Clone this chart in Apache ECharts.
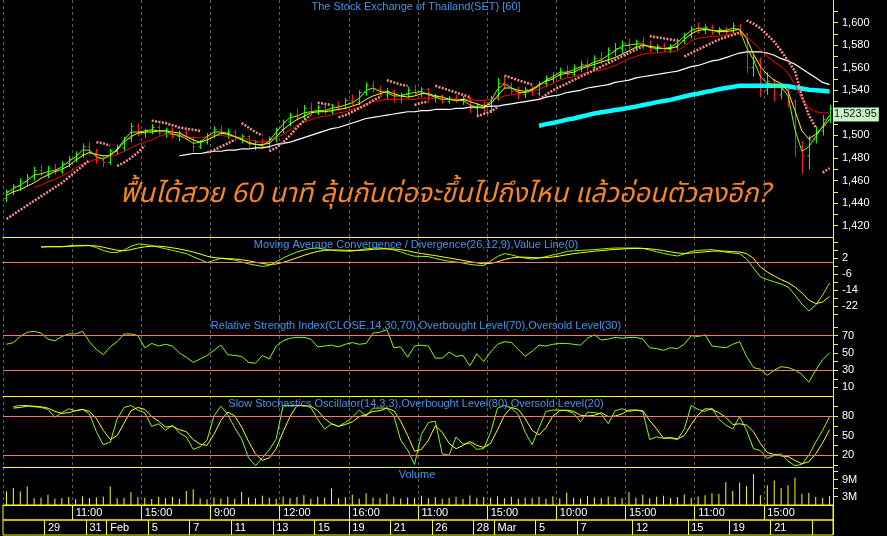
<!DOCTYPE html>
<html>
<head>
<meta charset="utf-8">
<title>SET [60]</title>
<script src="https://cdn.jsdelivr.net/npm/echarts@6.0.0/dist/echarts.min.js"></script>
<style>
  html, body { margin: 0; padding: 0; background: #000; }
  #chart { width: 887px; height: 536px; }
</style>
</head>
<body>
<div id="chart"></div>
<script>
// hourly bars: [open, high, low, close]
const priceBars = [
  [1444,1452,1441,1450],[1450,1457,1447,1455],[1455,1462,1451,1459],[1459,1466,1455,1463],[1463,1472,1460,1469],
  [1469,1474,1464,1466],[1466,1473,1462,1471],[1471,1475,1465,1468],[1468,1477,1466,1475],[1475,1482,1472,1479],
  [1479,1486,1476,1483],[1483,1493,1480,1490],[1490,1494,1482,1484],[1484,1488,1475,1478],[1478,1482,1472,1476],
  [1476,1488,1474,1486],[1486,1492,1483,1489],[1489,1499,1486,1497],[1497,1511,1494,1508],[1508,1510,1499,1502],
  [1502,1506,1498,1504],[1504,1510,1501,1507],[1507,1509,1500,1502],[1502,1507,1498,1505],[1505,1507,1497,1499],
  [1499,1504,1495,1502],[1502,1505,1496,1498],[1498,1499,1485,1490],[1490,1496,1488,1494],[1494,1502,1492,1500],
  [1500,1508,1498,1505],[1505,1509,1500,1502],[1502,1506,1497,1503],[1503,1505,1495,1497],[1497,1501,1493,1499],
  [1499,1500,1489,1492],[1492,1496,1487,1494],[1494,1497,1488,1490],[1490,1499,1488,1497],[1497,1507,1494,1505],
  [1505,1514,1502,1512],[1512,1520,1508,1518],[1518,1524,1513,1516],[1516,1527,1514,1524],[1524,1529,1518,1520],
  [1520,1527,1518,1525],[1525,1527,1519,1521],[1521,1528,1519,1526],[1526,1530,1522,1524],[1524,1533,1523,1531],
  [1531,1536,1527,1529],[1529,1540,1527,1538],[1538,1547,1535,1544],[1544,1548,1538,1541],[1541,1544,1534,1536],
  [1536,1542,1532,1539],[1539,1540,1529,1532],[1532,1538,1529,1536],[1536,1543,1533,1540],[1540,1545,1535,1537],
  [1537,1543,1534,1541],[1541,1542,1531,1533],[1533,1537,1529,1535],[1535,1536,1528,1530],[1530,1535,1528,1533],
  [1533,1536,1529,1531],[1531,1535,1527,1533],[1533,1534,1520,1524],[1524,1529,1518,1527],[1527,1530,1519,1522],
  [1522,1535,1520,1533],[1533,1551,1531,1546],[1546,1552,1541,1544],[1544,1547,1536,1539],[1539,1543,1532,1536],
  [1536,1543,1533,1541],[1541,1544,1535,1537],[1537,1548,1535,1546],[1546,1553,1543,1550],[1550,1556,1547,1553],
  [1553,1560,1550,1557],[1557,1562,1552,1554],[1554,1563,1552,1560],[1560,1566,1556,1563],[1563,1568,1557,1560],
  [1560,1571,1558,1568],[1568,1574,1563,1566],[1566,1578,1564,1575],[1575,1582,1570,1577],[1577,1584,1573,1581],
  [1581,1586,1576,1578],[1578,1585,1575,1583],[1583,1587,1576,1579],[1579,1584,1574,1576],[1576,1581,1573,1579],
  [1579,1582,1574,1576],[1576,1581,1573,1578],[1578,1586,1576,1584],[1584,1591,1581,1589],[1589,1597,1586,1595],
  [1595,1600,1590,1593],[1593,1599,1590,1596],[1596,1598,1589,1591],[1591,1596,1589,1594],[1594,1596,1589,1592],
  [1592,1600,1590,1597],[1597,1599,1588,1590],[1590,1591,1555,1560],[1560,1571,1552,1566],[1566,1569,1534,1540],
  [1540,1556,1536,1548],[1548,1550,1530,1536],[1536,1546,1532,1541],[1541,1543,1525,1530],[1530,1532,1481,1490],
  [1490,1495,1466,1482],[1482,1500,1470,1496],[1496,1508,1493,1504],[1504,1518,1500,1514],[1514,1527,1511,1523.95]
];

// moving averages on the price panel
const maFast = [
  1449,1453,1456,1460,1465,1466,1468,1469,1472,1477,1481,1487,1487,1481,1479,1483,1488,1496,1503,1503,
  1504,1505,1504,1504,1501,1500,1497,1493,1494,1499,1503,1503,1502,1499,1497,1493,1492,1491,1495,1503,
  1510,1516,1517,1520,1521,1522,1522,1524,1525,1527,1529,1533,1540,1542,1539,1538,1535,1535,1537,1538,
  1539,1536,1534,1532,1532,1531,1531,1527,1525,1524,1530,1541,1546,1542,1538,1538,1540,1544,1549,1552,
  1556,1556,1558,1561,1562,1565,1567,1571,1575,1579,1580,1581,1581,1578,1577,1577,1578,1582,1588,1593,
  1595,1595,1593,1593,1593,1595,1594,1578,1567,1552,1546,1545,1543,1535,1505,1486,1490,1499,1508,1518
];
const maMid = [
  1447,1450,1452,1455,1458,1462,1465,1468,1470,1473,1478,1482,1485,1483,1482,1482,1487,1494,1499,1502,
  1503,1503,1504,1504,1503,1502,1499,1496,1494,1496,1499,1502,1501,1499,1496,1494,1492,1492,1493,1499,
  1505,1510,1514,1517,1520,1521,1521,1522,1523,1524,1526,1528,1532,1535,1537,1539,1537,1535,1534,1535,
  1537,1537,1535,1534,1532,1531,1532,1530,1528,1526,1528,1535,1542,1542,1540,1539,1541,1545,1548,1550,
  1554,1555,1556,1559,1561,1563,1565,1567,1569,1572,1575,1578,1580,1579,1578,1577,1577,1579,1585,1590,
  1593,1594,1593,1592,1592,1593,1594,1586,1572,1561,1554,1549,1546,1539,1522,1504,1497,1501,1507,1514
];
const maSlow = [
  null,null,null,null,1454,1456,1459,1461,1464,1467,1471,1475,1477,1479,1480,1481,1483,1486,1489,1492,
  1494,1496,1499,1501,1501,1500,1499,1498,1498,1499,1500,1500,1499,1499,1498,1496,1495,1494,1495,1498,
  1501,1505,1509,1512,1514,1516,1517,1518,1520,1521,1523,1525,1528,1530,1531,1532,1532,1532,1532,1532,
  1533,1533,1533,1532,1532,1532,1532,1532,1531,1531,1532,1533,1535,1536,1537,1538,1539,1541,1544,1546,
  1549,1551,1552,1554,1556,1557,1558,1560,1562,1565,1568,1570,1572,1573,1573,1574,1574,1575,1579,1584,
  1586,1587,1588,1588,1589,1590,1592,1588,1582,1576,1570,1565,1561,1555,1545,1532,1524,1521,1520,1520
];
const maLong = [
  null,null,null,null,null,null,null,null,null,null,null,null,null,null,null,null,null,null,null,null,
  null,null,null,null,null,1482,1483,1484,1484,1485,1486,1486,1487,1487,1488,1488,1489,1489,1490,1492,
  1493,1494,1496,1498,1500,1502,1504,1506,1507,1509,1511,1513,1515,1516,1517,1518,1519,1520,1521,1521,
  1522,1522,1523,1523,1523,1524,1524,1525,1525,1525,1526,1526,1527,1528,1529,1530,1531,1532,1534,1535,
  1536,1538,1539,1540,1542,1543,1544,1545,1547,1548,1549,1551,1552,1553,1554,1555,1556,1557,1559,1561,
  1562,1564,1566,1567,1569,1571,1573,1574,1574,1574,1573,1571,1568,1566,1563,1559,1555,1551,1547,1545
];
const maXLong = [
  null,null,null,null,null,null,null,null,null,null,null,null,null,null,null,null,null,null,null,null,
  null,null,null,null,null,null,null,null,null,null,null,null,null,null,null,null,null,null,null,null,
  null,null,null,null,null,null,null,null,null,null,null,null,null,null,null,null,null,null,null,null,
  null,null,null,null,null,null,null,null,null,null,null,null,null,null,null,null,null,1508.5,1510,1511,
  1512.5,1514,1515,1516.5,1518,1519.5,1520.5,1521.5,1522.5,1523.5,1524.5,1525.5,1527,1528,1529.5,1530.5,1531.5,1533,1534.5,1536,
  1537,1538.5,1539.5,1541,1542,1543,1544,1544,1544,1544,1544,1544,1544,1543.5,1542.5,1541.5,1540.5,1540,1539.5,1539
];

// parabolic SAR runs: [first bar, values], alternating below / above price
const sarRuns = [
  [0, [1426,1430,1434,1438,1442,1446,1450,1454,1458,1463,1468,1473,1478]],
  [13, [1494,1493,1491]],
  [16, [1473,1476,1480,1485,1491]],
  [21, [1513,1512,1511,1509,1507,1506,1505,1504]],
  [29, [1485,1487,1490,1493,1496]],
  [34, [1511,1507,1503,1500]],
  [38, [1486,1489,1494,1500,1507,1513,1518]],
  [45, [1529,1528,1527]],
  [48, [1516,1518,1521,1524,1527,1531,1534]],
  [55, [1549,1547,1545,1544]],
  [59, [1527,1529,1530]],
  [62, [1544,1542,1540,1538,1536,1534]],
  [68, [1517,1519,1521,1525]],
  [72, [1553,1551,1549,1547,1545]],
  [77, [1532,1536,1540,1543,1546,1549,1552,1555,1558,1561,1564,1567,1570,1573,1576,1579]],
  [93, [1588,1587,1586,1585,1584]],
  [98, [1570,1573,1576,1579,1582,1585,1587,1589,1591]],
  [107, [1602,1599,1595,1589,1583,1575,1566,1557,1535,1518,1507]],
  [118, [1467,1471]]
];

const macdLine = [
  null,null,null,null,null,7.5,7.7,7.6,7.6,8.1,8.3,8.3,8.3,7.2,5.8,4.8,4.8,6.0,7.9,9.0,
  8.8,8.2,7.4,6.6,5.8,5.0,4.2,2.6,1.2,-0.3,0.8,1.8,1.4,1.0,0.0,-0.9,-1.6,-2.2,-1.8,0.2,
  2.0,3.6,5.0,6.0,6.8,7.0,6.4,5.9,5.6,5.4,5.4,6.0,6.6,6.9,7.0,6.6,6.0,5.1,3.8,2.9,
  2.8,2.7,1.8,1.0,0.4,0.0,-0.5,-1.2,-1.6,-1.8,0.5,2.8,4.2,3.6,2.6,1.9,1.5,2.0,2.7,3.5,
  4.3,5.3,5.6,5.8,6.0,6.2,6.5,6.8,7.0,7.0,7.0,7.0,6.8,6.0,5.1,4.3,3.6,3.0,4.0,5.3,
  5.8,6.0,6.2,5.6,4.9,4.5,4.2,1.5,-3.0,-7.4,-8.8,-9.9,-11.0,-12.5,-16.5,-21.0,-24.5,-21.5,-16.5,-10.5
];
const macdSignal = [
  null,null,null,null,null,7.5,7.6,7.7,7.7,7.8,8.0,8.1,8.2,8.0,7.4,6.6,5.9,5.6,6.2,7.0,
  7.6,7.9,7.9,7.6,7.1,6.5,5.8,5.0,4.0,2.9,2.2,1.9,1.7,1.5,1.1,0.6,-0.1,-0.7,-1.2,-1.0,
  -0.2,0.9,2.1,3.3,4.4,5.3,5.8,6.0,6.0,5.9,5.8,5.8,6.0,6.3,6.5,6.6,6.5,6.2,5.6,4.8,
  4.2,3.7,3.2,2.6,2.0,1.4,0.8,0.2,-0.4,-0.9,-0.7,0.1,1.2,2.0,2.4,2.4,2.2,2.1,2.2,2.5,
  3.0,3.6,4.2,4.6,5.0,5.4,5.7,6.0,6.3,6.5,6.7,6.8,6.8,6.6,6.2,5.7,5.1,4.5,4.3,4.5,
  4.8,5.1,5.4,5.5,5.4,5.2,5.0,4.2,1.8,-2.5,-5.0,-7.0,-8.8,-10.3,-12.5,-15.5,-19.0,-20.8,-20.0,-17.2
];

const rsiLine = [
  60,62,69,74,75,73,66,64,69,72,72,75,63,54,48,57,63,72,72,70,
  56,61,58,60,58,50,45,39,43,47,53,59,48,47,46,39,38,47,43,58,
  64,67,68,68,66,57,58,59,57,60,62,60,61,73,74,77,56,57,45,58,
  59,58,44,44,51,46,47,35,49,40,51,60,63,62,54,46,52,59,58,60,
  61,61,60,59,67,71,65,66,68,67,68,68,66,56,55,53,56,55,60,70,
  69,71,58,57,56,60,63,46,33,31,24,30,34,33,30,25,16,30,42,50
];

const stochK = [
  null,94,96,96,94,93,90,78,85,91,88,90,83,56,36,40,75,93,96,89,
  85,64,68,58,66,54,48,29,33,43,80,95,82,62,45,16,4,16,28,45,
  96,96,96,96,93,75,60,68,64,70,78,89,80,92,92,92,80,43,28,6,
  52,70,72,22,20,48,37,38,29,30,55,92,96,92,82,55,36,62,87,89,
  89,88,84,71,86,85,83,68,88,91,87,89,87,44,48,46,46,44,60,96,
  90,87,92,75,66,60,79,58,30,27,15,20,22,11,4,6,20,40,58,79
];
const stochD = [
  null,92,93,95,95,94,92,87,84,85,88,90,87,76,58,44,50,69,88,93,
  90,79,72,63,64,59,56,44,37,35,52,73,86,80,63,41,22,12,16,30,
  56,79,96,96,95,88,76,68,64,67,71,79,82,87,88,92,88,72,50,26,
  29,43,65,55,38,30,35,41,35,32,38,59,81,93,90,76,58,51,62,80,
  88,89,87,81,80,81,85,79,80,83,89,89,88,73,60,46,47,45,50,67,
  82,91,90,85,78,67,68,66,56,38,24,21,19,18,12,7,10,22,39,59
];

// volume in millions of shares
const volume = [
  4.8,6.0,4.8,6.6,2.4,2.6,3.6,2.2,2.4,2.8,2.0,3.1,2.5,2.7,3.0,6.6,2.4,2.6,4.5,2.8,
  2.6,2.1,2.8,2.5,2.9,2.2,5.0,5.6,2.4,2.0,2.7,2.3,2.9,2.2,4.6,2.7,2.4,3.3,2.6,2.2,
  3.0,2.5,2.8,3.5,2.2,2.9,2.6,5.9,2.4,2.8,3.6,2.3,4.2,2.7,2.5,3.9,2.9,2.3,2.7,2.6,
  3.3,2.4,2.8,2.2,2.6,2.9,2.1,3.4,2.5,2.8,2.6,3.0,2.4,2.9,2.2,2.7,2.5,2.8,2.3,3.1,
  2.4,4.4,2.6,2.3,3.2,2.7,2.5,3.0,2.8,2.4,4.5,2.6,3.6,2.4,2.9,3.3,2.5,2.8,3.7,2.6,
  3.0,3.5,4.2,4.0,8.1,5.0,8.0,6.7,11.0,3.5,7.0,8.7,6.0,7.0,9.7,4.0,4.3,2.8,2.5,3.2
];

// bottom time scale: bar index where a label band starts
const timeMarks = [[10,'11:00'],[20,'15:00'],[30,'9:00'],[40,'12:00'],[50,'16:00'],[60,'11:00'],
  [70,'15:00'],[80,'10:00'],[90,'15:00'],[100,'11:00'],[110,'15:00']];
const dateMarks = [[6,'29'],[12,'31'],[15,'Feb'],[21,'5'],[27,'7'],[33,'11'],[39,'13'],[45,'15'],
  [50,'19'],[56,'21'],[62,'26'],[68,'28'],[71,'Mar'],[77,'5'],[83,'7'],[91,'12'],[99,'15'],
  [105,'19'],[111,'21'],[117,'']];

// right-hand scales
const priceTicks = [1420,1430,1440,1450,1460,1470,1480,1490,1500,1510,1520,1530,1540,1550,1560,1570,1580,1590,1600,1610];
const priceLabels = [1420,1440,1460,1480,1500,1520,1540,1560,1580,1600];
const macdTicks = [-26,-22,-18,-14,-10,-6,-2,2,6,10];
const macdLabels = [-22,-14,-6,2];
const rsiTicks = [10,20,30,40,50,60,70,80];
const rsiLabels = [10,30,50,70];
const stochTicks = [5,20,35,50,65,80,95];
const stochLabels = [20,50,80];
const volTicks = [3,6,9,12];
const volLabels = [3,9];

const FONT = "'Liberation Sans', Arial, sans-serif";
const YELLOW = '#ffff00';
const LIME = '#80ff00';
const LEVEL = '#ff7373';
const BLUE = '#3f95ea';

const categories = priceBars.map((b, i) => String(i));
const lastClose = priceBars[priceBars.length - 1][3];
const timeText = new Map(timeMarks);
const dateText = new Map(dateMarks);

function withCommas (v) {
  return String(v).replace(/\B(?=(\d{3})+(?!\d))/g, ',');
}

function sarSide (side) {
  const out = categories.map(() => null);
  sarRuns.forEach((run, k) => {
    if (k % 2 !== side) return;
    run[1].forEach((v, j) => { out[run[0] + j] = v; });
  });
  return out;
}

const panels = [
  { top: 0, height: 237 },
  { top: 237, height: 81 },
  { top: 318, height: 78 },
  { top: 396, height: 71 },
  { top: 467, height: 38 },
  { top: 505, height: 15 },
  { top: 520, height: 15 }
];

function panelX (gridIndex) {
  return {
    type: 'category', gridIndex: gridIndex, data: categories, boundaryGap: true,
    axisLine: { show: true, lineStyle: { color: YELLOW, width: 1 } },
    axisTick: { show: false },
    axisLabel: { show: false },
    splitLine: { show: true, interval: (i) => i % 10 === 0, lineStyle: { color: '#5c5c5c', type: [3, 3], width: 1 } }
  };
}

function rowX (gridIndex, texts) {
  return {
    type: 'category', gridIndex: gridIndex, data: categories, boundaryGap: true,
    axisLine: { show: false },
    axisTick: { show: false },
    axisLabel: {
      show: true, inside: true, margin: 7, verticalAlign: 'middle', align: 'left',
      color: '#ffffff', fontSize: 11, fontFamily: FONT,
      interval: (i) => texts.has(i),
      formatter: (v, i) => texts.get(i) || ''
    },
    splitLine: { show: true, interval: (i) => texts.has(i), lineStyle: { color: YELLOW, width: 1 } }
  };
}

function rightY (gridIndex, min, max, ticks, labels, fmt) {
  return {
    type: 'value', gridIndex: gridIndex, position: 'right', min: min, max: max,
    axisLine: { show: true, lineStyle: { color: YELLOW, width: 1 } },
    axisTick: { show: true, length: 5, customValues: ticks, lineStyle: { color: YELLOW } },
    axisLabel: { show: true, customValues: labels, color: '#ffffff', fontSize: 11, fontFamily: FONT, margin: 9, formatter: fmt },
    splitLine: { show: false }
  };
}

function line (name, x, y, data, color, width, extra) {
  return Object.assign({
    name: name, type: 'line', xAxisIndex: x, yAxisIndex: y, data: data,
    symbol: 'none', showSymbol: false, connectNulls: false,
    lineStyle: { color: color, width: width }, itemStyle: { color: color }
  }, extra || {});
}

function levels (values) {
  return {
    silent: true, symbol: 'none', animation: false,
    label: { show: false },
    lineStyle: { color: LEVEL, type: 'solid', width: 1 },
    data: values.map(v => ({ yAxis: v }))
  };
}

function renderOhlc (params, api) {
  const i = api.value(0);
  const open = api.value(1);
  const close = api.value(4);
  const pO = api.coord([i, open]);
  const pH = api.coord([i, api.value(2)]);
  const pL = api.coord([i, api.value(3)]);
  const pC = api.coord([i, close]);
  const color = close >= open ? '#00ff00' : '#ff1a1a';
  const x = Math.round(pO[0]) + 0.5;
  const st = { stroke: color, lineWidth: 1 };
  return {
    type: 'group',
    children: [
      { type: 'line', shape: { x1: x, y1: pH[1], x2: x, y2: pL[1] }, style: st },
      { type: 'line', shape: { x1: x - 2, y1: pO[1], x2: x, y2: pO[1] }, style: st },
      { type: 'line', shape: { x1: x, y1: pC[1], x2: x + 2, y2: pC[1] }, style: st }
    ]
  };
}

const chart = echarts.init(document.getElementById('chart'), null, { renderer: 'canvas' });

chart.setOption({
  backgroundColor: '#000000',
  animation: false,
  grid: panels.map((p, k) => ({
    left: 3, width: 830, top: p.top, height: p.height,
    show: k >= 5, borderColor: YELLOW, borderWidth: 1, backgroundColor: 'transparent'
  })),
  xAxis: [panelX(0), panelX(1), panelX(2), panelX(3), panelX(4), rowX(5, timeText), rowX(6, dateText)],
  yAxis: [
    rightY(0, 1410, 1620, priceTicks, priceLabels, withCommas),
    rightY(1, -28, 12.5, macdTicks, macdLabels),
    rightY(2, 0, 90.5, rsiTicks, rsiLabels),
    rightY(3, 2, 110.5, stochTicks, stochLabels),
    rightY(4, 0, 13.5, volTicks, volLabels, v => v + 'M'),
    { type: 'value', gridIndex: 5, show: false },
    { type: 'value', gridIndex: 6, show: false }
  ],
  graphic: [
    { type: 'text', x: 416, y: 7, z: 50, style: { text: 'The Stock Exchange of Thailand(SET) [60]', fill: BLUE, font: '11px ' + FONT, align: 'center', verticalAlign: 'middle' } },
    { type: 'text', x: 416, y: 245, z: 50, style: { text: 'Moving Average Convergence / Divergence(26,12,9),Value Line(0)', fill: BLUE, font: '11px ' + FONT, align: 'center', verticalAlign: 'middle' } },
    { type: 'text', x: 416, y: 326, z: 50, style: { text: 'Relative Strength Index(CLOSE,14,30,70),Overbought Level(70),Oversold Level(30)', fill: BLUE, font: '11px ' + FONT, align: 'center', verticalAlign: 'middle' } },
    { type: 'text', x: 416, y: 404, z: 50, style: { text: 'Slow Stochastics Oscillator(14,3,3),Overbought Level(80),Oversold Level(20)', fill: BLUE, font: '11px ' + FONT, align: 'center', verticalAlign: 'middle' } },
    { type: 'text', x: 417, y: 475, z: 50, style: { text: 'Volume', fill: BLUE, font: '11px ' + FONT, align: 'center', verticalAlign: 'middle' } },
    { type: 'text', x: 445, y: 197, z: 60, style: { text: 'ฟื้นได้สวย 60 นาที ลุ้นกันต่อจะขึ้นไปถึงไหน แล้วอ่อนตัวลงอีก?', fill: '#f7861c', font: "italic 27px 'Noto Sans Thai', 'Noto Sans', 'DejaVu Sans', sans-serif", align: 'center', verticalAlign: 'middle' } }
  ],
  series: [
    {
      name: 'SET', type: 'custom', xAxisIndex: 0, yAxisIndex: 0,
      renderItem: renderOhlc,
      encode: { x: 0, y: [1, 2, 3, 4] },
      data: priceBars.map((b, i) => [i, b[0], b[1], b[2], b[3]])
    },
    line('MA long', 0, 0, maLong, '#ffffff', 1.2),
    line('MA extra long', 0, 0, maXLong, '#00ffff', 4.5),
    line('MA slow', 0, 0, maSlow, '#ff0000', 1),
    line('MA mid', 0, 0, maMid, YELLOW, 1, {
      markLine: {
        silent: true, symbol: 'none', animation: false,
        lineStyle: { color: 'rgba(0,0,0,0)', width: 1 },
        label: {
          show: true, position: 'end', distance: 0, formatter: withCommas(lastClose),
          backgroundColor: '#c8f3c8', color: '#101010', fontSize: 11, fontFamily: FONT,
          padding: [2, 2, 1, 1], offset: [0, 6], opacity: 1
        },
        data: [{ yAxis: lastClose }]
      }
    }),
    line('MA fast', 0, 0, maFast, LIME, 1),
    line('SAR below', 0, 0, sarSide(0), '#ff8a8a', 2.5, { lineStyle: { color: '#ff8a8a', width: 2.5, type: [2, 1.4] } }),
    line('SAR above', 0, 0, sarSide(1), '#ff8a8a', 2.5, { lineStyle: { color: '#ff8a8a', width: 2.5, type: [2, 1.4] } }),

    line('MACD', 1, 1, macdLine, LIME, 1, { markLine: levels([0]) }),
    line('Signal', 1, 1, macdSignal, YELLOW, 1),

    line('RSI', 2, 2, rsiLine, LIME, 1, { markLine: levels([70, 30]) }),

    line('%K', 3, 3, stochK, LIME, 1, { markLine: levels([80, 20]) }),
    line('%D', 3, 3, stochD, YELLOW, 1),

    {
      name: 'Volume', type: 'bar', xAxisIndex: 4, yAxisIndex: 4, data: volume,
      barWidth: 1, itemStyle: { color: YELLOW }
    }
  ]
});
</script>
</body>
</html>
